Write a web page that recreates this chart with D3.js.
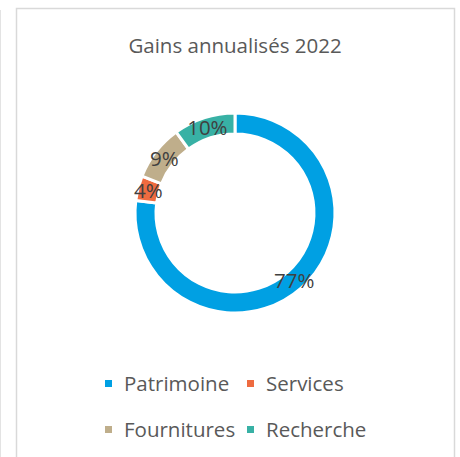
<!DOCTYPE html>
<html>
<head>
  <meta charset="utf-8">
  <title>Gains annualisés 2022</title>
  <script src="https://d3js.org/d3.v7.min.js"></script>
  <style>
    body { margin: 0; background: #fff; }
    svg text { font-family: "Open Sans", "Noto Sans", sans-serif; }
  </style>
</head>
<body>

  <div id="chart"></div>
  <script type="text/javascript">

  var categories = ["Patrimoine", "Services", "Fournitures", "Recherche"];
  var values = [77, 4, 9, 10];
  var labels = ["77%", "4%", "9%", "10%"];
  var colors = ["#00A0E3", "#EE6B40", "#BFAE8B", "#38B1A5"];

  var width = 460, height = 457;
  var cx = 235, cy = 213, outer = 100, inner = 79;

  var svg = d3.select("#chart").append("svg")
    .attr("width", width)
    .attr("height", height);

  // frame
  svg.append("rect")
    .attr("x", 16.5).attr("y", 8.5)
    .attr("width", 438).attr("height", 460)
    .attr("fill", "#fff")
    .attr("stroke", "#d9d9d9")
    .attr("stroke-width", 1.5);
  svg.append("line")
    .attr("x1", 0.5).attr("x2", 0.5)
    .attr("y1", 10).attr("y2", height)
    .attr("stroke", "#e3e3e3");

  svg.append("text")
    .attr("x", cx).attr("y", 53)
    .attr("text-anchor", "middle")
    .attr("font-size", 20.5)
    .attr("fill", "#595959")
    .text("Gains annualisés 2022");

  var pie = d3.pie().sort(null).value(function(d){ return d; });
  var arc = d3.arc().innerRadius(inner).outerRadius(outer);
  var arcs = pie(values);

  var g = svg.append("g").attr("transform", "translate(" + cx + "," + cy + ")");
  g.selectAll("path").data(arcs).enter().append("path")
    .attr("d", arc)
    .attr("fill", function(d, i){ return colors[i]; })
    .attr("stroke", "#fff")
    .attr("stroke-width", 3);

  g.selectAll("text.lbl").data(arcs).enter().append("text")
    .attr("class", "lbl")
    .attr("transform", function(d){ return "translate(" + arc.centroid(d) + ")"; })
    .attr("text-anchor", "middle")
    .attr("dy", "0.36em")
    .attr("font-size", 20.5)
    .attr("fill", "#404040")
    .text(function(d, i){ return labels[i]; });

  // legend, two rows of two
  var legX = [105, 247], legY = [384, 430];
  var leg = svg.selectAll("g.leg").data(categories).enter().append("g")
    .attr("class", "leg")
    .attr("transform", function(d, i){
      return "translate(" + legX[i % 2] + "," + legY[Math.floor(i / 2)] + ")";
    });
  leg.append("rect")
    .attr("x", 0).attr("y", -4)
    .attr("width", 7).attr("height", 7)
    .attr("fill", function(d, i){ return colors[i]; });
  leg.append("text")
    .attr("x", 19).attr("y", 0)
    .attr("dy", "0.35em")
    .attr("font-size", 20.5)
    .attr("fill", "#595959")
    .text(function(d){ return d; });

  </script>

</body>
</html>
